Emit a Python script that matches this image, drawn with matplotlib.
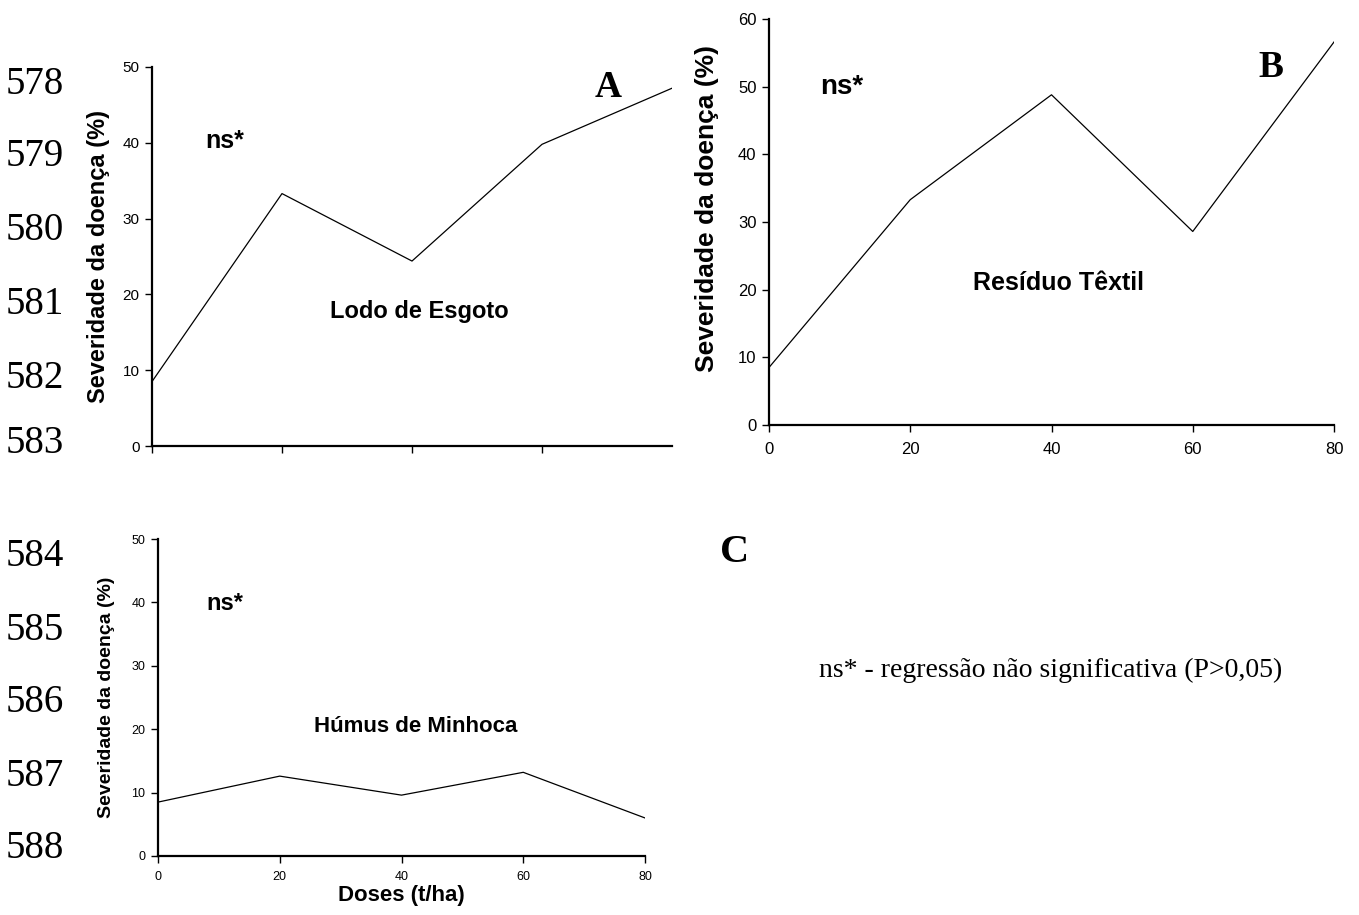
import matplotlib
matplotlib.use("Agg")
import matplotlib.pyplot as plt

# ---------------- data ----------------
doses = [0, 20, 40, 60, 80]
lodo_esgoto = [8.5, 33.3, 24.4, 39.8, 47.2]
residuo_textil = [8.5, 33.3, 48.8, 28.6, 56.6]
humus_minhoca = [8.5, 12.6, 9.6, 13.2, 6.0]

ylabel_text = "Severidade da doença (%)"
xlabel_text = "Doses (t/ha)"
titles = ["Lodo de Esgoto", "Resíduo Têxtil", "Húmus de Minhoca"]
panel_letters = ["A", "B", "C"]
ns_text = "ns*"
note_text = "ns* - regressão não significativa (P>0,05)"
line_numbers = list(range(578, 589))
line_number_y = [84, 157, 231, 304, 378, 444, 557, 630, 703, 776, 848]

W, H = 1359, 915
fig = plt.figure(figsize=(W / 100, H / 100), dpi=100)
fig.patch.set_facecolor("white")

SANS = ["Liberation Sans", "DejaVu Sans"]
SERIF = ["Liberation Serif", "DejaVu Serif"]


def px_axes(l, t, r, b):
    return fig.add_axes([l / W, 1 - b / H, (r - l) / W, (b - t) / H])


def style(ax, ymax, ystep, tick_fs, show_xlabels):
    for s in ["top", "right"]:
        ax.spines[s].set_visible(False)
    for s in ["left", "bottom"]:
        ax.spines[s].set_linewidth(1.6)
        ax.spines[s].set_color("black")
    ax.set_xlim(0, 80)
    ax.set_ylim(0, ymax)
    ax.set_yticks(range(0, ymax + 1, ystep))
    ax.tick_params(axis="both", direction="out", length=5, width=1.0,
                   colors="black", labelsize=tick_fs, pad=4)
    for lab in ax.get_yticklabels() + ax.get_xticklabels():
        lab.set_family(SANS)
    if show_xlabels:
        ax.set_xticks(doses)
    else:
        ax.set_xticks(doses[:-1])
        ax.set_xticklabels([])


# ---------------- Panel A ----------------
axA = px_axes(152, 67, 672, 446)
axA.plot(doses, lodo_esgoto, color="black", lw=0.9)
style(axA, 50, 10, 11, False)
axA.set_ylabel(ylabel_text, fontsize=17, fontweight="bold", family=SANS)
axA.yaxis.set_label_coords(-0.081, 0.5)
axA.text(0.139, 0.805, ns_text, transform=axA.transAxes, fontsize=18,
         fontweight="bold", family=SANS, ha="center", va="center")
axA.text(0.515, 0.355, titles[0], transform=axA.transAxes, fontsize=17,
         fontweight="bold", family=SANS, ha="center", va="center")
axA.text(0.877, 0.945, panel_letters[0], transform=axA.transAxes, fontsize=27,
         fontweight="bold", family=SERIF, ha="center", va="center")

# ---------------- Panel B ----------------
axB = px_axes(769, 19, 1334, 425)
axB.plot(doses, residuo_textil, color="black", lw=0.9)
style(axB, 60, 10, 12, True)
axB.tick_params(axis="x", pad=7)
axB.set_ylabel(ylabel_text, fontsize=19, fontweight="bold", family=SANS)
axB.yaxis.set_label_coords(-0.088, 0.534)
axB.text(0.128, 0.832, ns_text, transform=axB.transAxes, fontsize=20,
         fontweight="bold", family=SANS, ha="center", va="center")
axB.text(0.513, 0.35, titles[1], transform=axB.transAxes, fontsize=18,
         fontweight="bold", family=SANS, ha="center", va="center")
axB.text(0.888, 0.88, panel_letters[1], transform=axB.transAxes, fontsize=27,
         fontweight="bold", family=SERIF, ha="center", va="center")

# ---------------- Panel C ----------------
axC = px_axes(158, 539, 645, 856)
axC.plot(doses, humus_minhoca, color="black", lw=0.9)
style(axC, 50, 10, 9, True)
axC.tick_params(axis="x", pad=6)
axC.set_ylabel(ylabel_text, fontsize=14, fontweight="bold", family=SANS)
axC.yaxis.set_label_coords(-0.088, 0.5)
axC.set_xlabel(xlabel_text, fontsize=16, fontweight="bold", family=SANS,
               labelpad=1)
axC.text(0.137, 0.795, ns_text, transform=axC.transAxes, fontsize=17,
         fontweight="bold", family=SANS, ha="center", va="center")
axC.text(0.53, 0.41, titles[2], transform=axC.transAxes, fontsize=16,
         fontweight="bold", family=SANS, ha="center", va="center")

# ---------------- free texts ----------------
fig.text(735 / W, 1 - 552 / H, panel_letters[2], fontsize=29,
         fontweight="bold", family=SERIF, ha="center", va="center")
fig.text(1051 / W, 1 - 670 / H, note_text, fontsize=20, family=SERIF,
         ha="center", va="center")
for n, y in zip(line_numbers, line_number_y):
    fig.text(6 / W, 1 - y / H, str(n), fontsize=28, family=SERIF,
             ha="left", va="center")

fig.savefig("out.png", dpi=100, facecolor="white")
